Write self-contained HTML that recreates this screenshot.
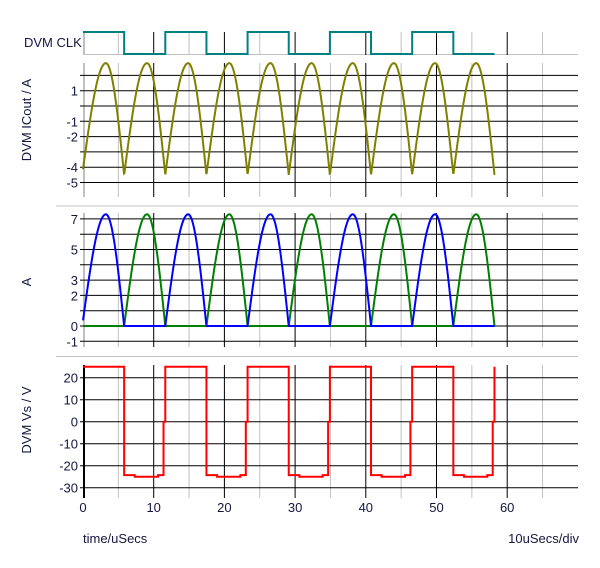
<!DOCTYPE html>
<html><head><meta charset="utf-8"><style>
html,body{margin:0;padding:0;background:#fff;}
svg text{font-family:"Liberation Sans",Arial,sans-serif;font-size:13px;fill:#151540;}
</style></head><body>
<svg id="s" width="600" height="563" viewBox="0 0 600 563" xmlns="http://www.w3.org/2000/svg">
<g id="grid"></g>
<g id="series"></g>
<text x="24" y="47">DVM CLK</text>
<text transform="translate(31,120) rotate(-90)" text-anchor="middle">DVM ICout / A</text>
<text transform="translate(31,282) rotate(-90)" text-anchor="middle">A</text>
<text transform="translate(31,420) rotate(-90)" text-anchor="middle">DVM Vs / V</text>
<text x="83" y="543">time/uSecs</text>
<text x="579" y="543" text-anchor="end">10uSecs/div</text>
</svg>
<script>
var NS="http://www.w3.org/2000/svg";
var G=document.getElementById("grid"),S=document.getElementById("series"),SV=document.getElementById("s");
function el(p,t,a,txt){var e=document.createElementNS(NS,t);for(var k in a)e.setAttribute(k,a[k]);if(txt!==undefined)e.textContent=txt;p.appendChild(e);return e;}
function X(t){return 83+7.07*t;}
function line(x1,y1,x2,y2,c,w){el(G,"line",{x1:x1,y1:y1,x2:x2,y2:y2,stroke:c,"stroke-width":w||1});}
line(83,54.5,578,54.5,"#c0c0c0");
line(56,206,578,206,"#c0c0c0");
line(56,356.5,578,356.5,"#c0c0c0");
var panels=[[32,55],[63,197],[213,347],[365,498]];
panels.forEach(function(p,i){
  for(var t=5;t<=65;t+=10)line(X(t),p[0],X(t),p[1],"#c0c0c0");
  for(var t=10;t<=60;t+=10)line(X(t),p[0],X(t),p[1],"#000");
  line(84,p[0],84,p[1],i==3?"#000":"#c0c0c0",2);
});
function hg(vals,f,labels){vals.forEach(function(v){var y=f(v);line(80,y,578,y,"#000");});
  labels.forEach(function(v){el(SV,"text",{x:78,y:f(v)+5,"text-anchor":"end"},String(v));});}
var fI=function(v){return 106-15.3*v;};
var fA=function(v){return 326-15.3*v;};
var fV=function(v){return 421.7-2.2*v;};
hg([2,1,0,-1,-2,-3,-4,-5],fI,[1,-1,-2,-4,-5]);
hg([7,6,5,4,3,2,1,0,-1],fA,[7,5,3,2,0,-1]);
hg([20,10,0,-10,-20,-30],fV,[20,10,0,-10,-20,-30]);
for(var t=0;t<=60;t+=10)el(SV,"text",{x:X(t),y:512,"text-anchor":"middle"},String(t));
var H=5.82,P=3.24,N=10,T=H*N;
function g(u,k){if(u<P){var s=Math.sin(Math.PI/2*u/P);return k==0?0.05+0.95*s:s;}return Math.cos(Math.PI/2*(u-P)/(H-P));}
function poly(pts,c){el(S,"polyline",{points:pts.map(function(p){return p[0].toFixed(2)+","+p[1].toFixed(2);}).join(" "),fill:"none",stroke:c,"stroke-width":2,"stroke-linejoin":"miter"});}
var c=[];for(var k=0;k<N;k++){var y=k%2==0?32:54;c.push([X(k*H),y]);c.push([X((k+1)*H),y]);}
poly(c,"#008080");
var ic=[];for(var t=0;t<=T;t+=0.05){var k=Math.min(N-1,Math.floor(t/H));var u=t-k*H;ic.push([X(t),fI(-4.5+7.3*g(u,k))]);}
poly(ic,"#808000");
function pulse(par){var pts=[];for(var t=0;t<=T;t+=0.05){var k=Math.min(N-1,Math.floor(t/H));var u=t-k*H;var v=(k%2==par)?7.3*g(u,k):0;pts.push([X(t),fA(v)]);}return pts;}
poly(pulse(1),"#008000");
poly(pulse(0),"#0000ff");
var vs=[];for(var k=0;k<N;k++){var t0=k*H;if(k%2==0){vs.push([X(t0),fV(25)]);vs.push([X(t0+H),fV(25)]);}else{
vs.push([X(t0),fV(-24.3)]);vs.push([X(t0+1.5),fV(-24.3)]);vs.push([X(t0+1.5),fV(-25)]);vs.push([X(t0+4.8),fV(-25)]);vs.push([X(t0+4.8),fV(-24.3)]);vs.push([X(t0+H-0.25),fV(-24.3)]);vs.push([X(t0+H-0.25),fV(0)]);vs.push([X(t0+H),fV(0)]);vs.push([X(t0+H),fV(25)]);}}
poly(vs,"#ff0000");
</script>
</body></html>
